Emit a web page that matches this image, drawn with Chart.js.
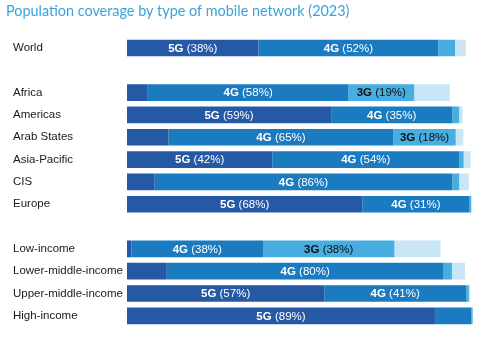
<!DOCTYPE html>
<html>
<head>
<meta charset="utf-8">
<script src="https://cdn.jsdelivr.net/npm/chart.js@4"></script>
<style>
  html, body { margin: 0; padding: 0; background: #fff; }
  #wrap { width: 500px; height: 340px; }
</style>
</head>
<body>
<div id="wrap"><canvas id="coverageChart"></canvas></div>
<script>
(function () {
  // Rows (blank strings are the spacer rows between groups)
  const regions = [
    "World", "",
    "Africa", "Americas", "Arab States", "Asia-Pacific", "CIS", "Europe", "",
    "Low-income", "Lower-middle-income", "Upper-middle-income", "High-income",
  ];

  // Population coverage (%) by technology
  const cov5G = [38, null, 6, 59, 12, 42, 8, 68, null, 1.3, 11.5, 57, 89];
  const cov4G = [52, null, 58, 35, 65, 54, 86, 31, null, 38, 80, 41, 10.5];
  const cov3G = [4.8, null, 19, 2, 18, 1.3, 2, 0.5, null, 38, 2.4, 0.8, 0.4];
  const cov2G = [3.1, null, 10.3, 1, 2.2, 2, 2.8, 0, null, 13.3, 3.8, 0.4, 0];

  const techNames = ["5G", "4G", "3G", "2G"];
  const techColors = ["#2559a6", "#1b7bc0", "#48ade0", "#c8e6f6"];
  const textColors = ["#ffffff", "#ffffff", "#111111", "#111111"];

  const boldFont = "bold 11.5px 'Liberation Sans', Arial, sans-serif";
  const normFont = "11.5px 'Liberation Sans', Arial, sans-serif";

  // Writes "5G (38%)" inside the wide enough segments
  const segmentLabels = {
    id: "segmentLabels",
    afterDatasetsDraw(chart) {
      const ctx = chart.ctx;
      chart.data.datasets.forEach((ds, di) => {
        const meta = chart.getDatasetMeta(di);
        meta.data.forEach((bar, i) => {
          const v = ds.data[i];
          if (v == null || v < 15) return;
          const boldPart = techNames[di];
          const normPart = " (" + Math.round(v) + "%)";
          ctx.save();
          ctx.textBaseline = "middle";
          ctx.textAlign = "left";
          ctx.fillStyle = textColors[di];
          ctx.font = boldFont;
          const wb = ctx.measureText(boldPart).width;
          ctx.font = normFont;
          const wn = ctx.measureText(normPart).width;
          const x0 = (bar.base + bar.x) / 2 - (wb + wn) / 2;
          ctx.font = boldFont;
          ctx.fillText(boldPart, x0, bar.y + 0.5);
          ctx.font = normFont;
          ctx.fillText(normPart, x0 + wb, bar.y + 0.5);
          ctx.restore();
        });
      });
    },
  };

  // Nudge the category labels right of the title's left edge
  const shiftLabels = {
    id: "shiftLabels",
    afterLayout(chart) {
      chart.scales.y.left += 7;
    },
  };

  const seriesData = [cov5G, cov4G, cov3G, cov2G];

  const ctx = document.getElementById("coverageChart").getContext("2d");
  new Chart(ctx, {
    type: "bar",
    data: {
      labels: regions,
      datasets: seriesData.map((arr, i) => ({
        label: techNames[i],
        data: arr,
        backgroundColor: techColors[i],
        borderWidth: 0,
        barPercentage: 0.745,
        categoryPercentage: 1,
      })),
    },
    options: {
      indexAxis: "y",
      responsive: true,
      maintainAspectRatio: false,
      animation: false,
      layout: { padding: { left: 6, right: 27, top: 0, bottom: 13 } },
      plugins: {
        legend: { display: false },
        tooltip: { enabled: false },
        title: {
          display: true,
          text: "Population coverage by type of mobile network (2023)",
          align: "start",
          color: "#3aa3db",
          font: { family: "Lato, 'Open Sans', sans-serif", size: 14.4, weight: "normal" },
          padding: { top: 3, bottom: 16.5 },
        },
      },
      scales: {
        x: {
          stacked: true,
          min: 0,
          max: 100,
          display: false,
        },
        y: {
          stacked: true,
          grid: { display: false },
          border: { display: false },
          afterFit(scale) {
            scale.width = 121;
          },
          ticks: {
            crossAlign: "far",
            color: "#1a1a1a",
            font: { family: "'Liberation Sans', Arial, sans-serif", size: 11.5 },
            autoSkip: false,
          },
        },
      },
    },
    plugins: [segmentLabels, shiftLabels],
  });
})();
</script>
</body>
</html>
